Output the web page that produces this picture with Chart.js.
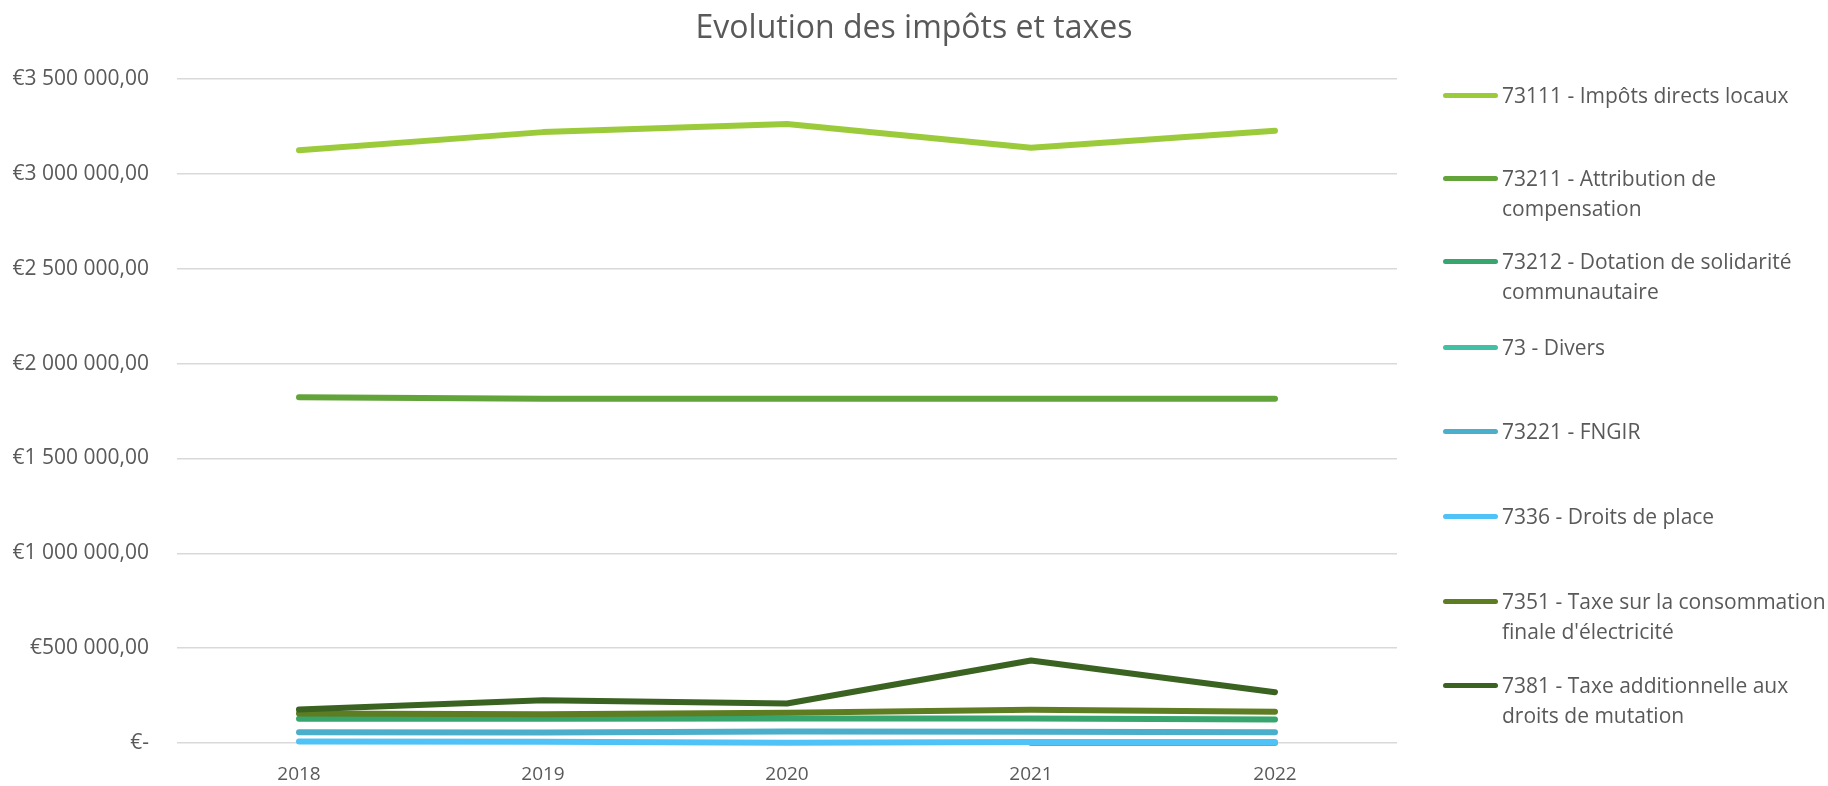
<!DOCTYPE html>
<html lang="fr">
<head>
<meta charset="utf-8">
<title>Evolution des impôts et taxes</title>
<script src="https://cdn.jsdelivr.net/npm/chart.js@4"></script>
<style>
  html, body { margin: 0; padding: 0; background: #fff; }
  #wrap { position: relative; width: 1828px; height: 786px; font-family: "Open Sans", sans-serif; color: #595959; }
  #chart { position: absolute; left: 0; top: 0; }
  #title { position: absolute; left: 0; width: 1828px; top: 5px; text-align: center; font-size: 32px; line-height: 42px; }
  #legend { position: absolute; left: 1443px; top: 0; width: 385px; }
  .item { position: absolute; left: 0; display: flex; align-items: flex-start; }
  .swatch { width: 55px; height: 5px; border-radius: 3px; margin-top: 13px; margin-right: 4px; flex: none; }
  .label { font-size: 21px; line-height: 30px; width: 326px; }
</style>
</head>
<body>
<div id="wrap">
  <canvas id="chart" width="1828" height="786"></canvas>
  <div id="title">Evolution des impôts et taxes</div>
  <div id="legend"></div>
</div>
<script>
const years = ["2018", "2019", "2020", "2021", "2022"];

const impotsDirects = [3124000, 3220000, 3263000, 3138000, 3227000];
const attribution = [1823000, 1814000, 1814000, 1814000, 1814000];
const dotationSolidarite = [128000, 128000, 129000, 129000, 124000];
const divers = [null, null, null, 0, 0];
const fngir = [57000, 56000, 61000, 59000, 57000];
const droitsPlace = [8000, 7000, 1000, 5000, 5000];
const taxeElectricite = [155000, 151000, 160000, 175000, 165000];
const taxeMutation = [176000, 225000, 208000, 435000, 268000];

const seriesNames = [
  "73111 - Impôts directs locaux",
  "73211 - Attribution de compensation",
  "73212 - Dotation de solidarité communautaire",
  "73 - Divers",
  "73221 - FNGIR",
  "7336 - Droits de place",
  "7351 - Taxe sur la consommation finale d'électricité",
  "7381 - Taxe additionnelle aux droits de mutation",
];
const seriesValues = [impotsDirects, attribution, dotationSolidarite, divers, fngir, droitsPlace, taxeElectricite, taxeMutation];
const seriesColors = ["#9bcb3b", "#62a33a", "#37a56d", "#41c0a3", "#4bafcb", "#4fc3f7", "#5e7d22", "#3a6322"];

// legend rows, top offsets in px
const legendTops = [80, 163, 246, 332, 416, 501, 586, 670];

const font = "'Open Sans', sans-serif";
const textColor = "#595959";

function euro(value) {
  if (value === 0) return "€-";
  const parts = Math.round(value).toString().replace(/\B(?=(\d{3})+(?!\d))/g, " ");
  return `€${parts},00`;
}

// later series are painted over earlier ones, like the original
const datasets = seriesNames.map((name, i) => ({
  label: name,
  data: seriesValues[i],
  order: seriesNames.length - 1 - i,
  borderColor: seriesColors[i],
  backgroundColor: seriesColors[i],
  borderWidth: 6,
  borderCapStyle: "round",
  borderJoinStyle: "round",
  pointRadius: 0,
  tension: 0,
  clip: false,
}));

new Chart(document.getElementById("chart").getContext("2d"), {
  type: "line",
  data: { labels: years, datasets },
  options: {
    responsive: false,
    animation: false,
    layout: { padding: { top: 79, right: 431, bottom: 0, left: 0 } },
    plugins: {
      legend: { display: false },
      title: { display: false },
      tooltip: { enabled: false },
    },
    scales: {
      x: {
        offset: true,
        grid: { display: false, drawTicks: false },
        border: { display: false },
        ticks: { color: textColor, font: { family: font, size: 19 }, padding: 20 },
        afterFit: (scale) => { scale.height = 43; },
      },
      y: {
        min: 0,
        max: 3500000,
        grid: { color: "#d9d9d9", lineWidth: 1.5, drawTicks: false },
        border: { display: false },
        ticks: {
          stepSize: 500000,
          color: textColor,
          font: { family: font, size: 21 },
          padding: 28,
          callback: (value) => euro(value),
        },
        afterFit: (scale) => { scale.width = 177; },
      },
    },
  },
});

const legend = document.getElementById("legend");
seriesNames.forEach((name, i) => {
  const item = document.createElement("div");
  item.className = "item";
  item.style.top = legendTops[i] + "px";
  item.innerHTML = `<span class="swatch" style="background:${seriesColors[i]}"></span><span class="label">${name}</span>`;
  legend.appendChild(item);
});
</script>
</body>
</html>
